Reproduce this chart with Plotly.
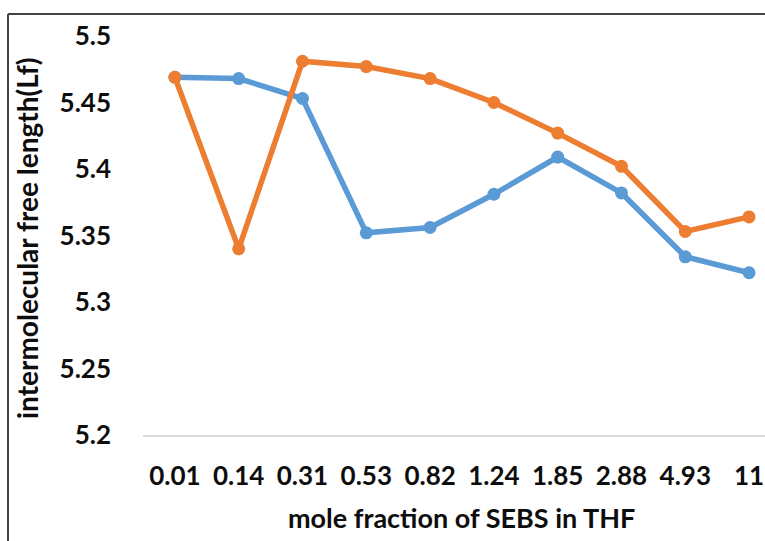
import plotly.graph_objects as go

# mole fraction categories and intermolecular free length values
categories = ["0.01", "0.14", "0.31", "0.53", "0.82", "1.24", "1.85", "2.88", "4.93", "11"]
blue_lf = [5.469, 5.468, 5.453, 5.352, 5.356, 5.381, 5.409, 5.382, 5.334, 5.322]
orange_lf = [5.469, 5.340, 5.481, 5.477, 5.468, 5.450, 5.427, 5.402, 5.353, 5.364]
y_ticks = [5.2, 5.25, 5.3, 5.35, 5.4, 5.45, 5.5]
y_tick_text = ["5.2", "5.25", "5.3", "5.35", "5.4", "5.45", "5.5"]

FONT = "Lato"
TXT = "#0d0d0d"
W, H = 765, 541
ML, MR, MT, MB = 143, 0, 36, 106
pw, ph = W - ML - MR, H - MT - MB


def px_x(x):
    return (x - ML) / pw


def px_y(y):
    return (H - MB - y) / ph


fig = go.Figure()
fig.add_trace(go.Scatter(
    x=categories, y=blue_lf, mode="lines+markers",
    line=dict(color="#5B9BD5", width=5.5),
    marker=dict(color="#5B9BD5", size=13),
    cliponaxis=False, showlegend=False,
))
fig.add_trace(go.Scatter(
    x=categories, y=orange_lf, mode="lines+markers",
    line=dict(color="#ED7D31", width=5.5),
    marker=dict(color="#ED7D31", size=13),
    cliponaxis=False, showlegend=False,
))

# outer frame (only top + left edges show in the crop)
frame = dict(color="#444444", width=2)
fig.add_shape(type="line", xref="paper", yref="paper",
              x0=px_x(8), x1=px_x(800), y0=px_y(14), y1=px_y(14), line=frame)
fig.add_shape(type="line", xref="paper", yref="paper",
              x0=px_x(8), x1=px_x(8), y0=px_y(14), y1=px_y(560), line=frame)

fig.add_annotation(text="intermolecular free length(Lf)", textangle=-90,
                   xref="paper", yref="paper", x=px_x(27), y=px_y(238),
                   xanchor="center", yanchor="middle", showarrow=False,
                   font=dict(family=FONT, size=28, color=TXT, weight="bold"))
fig.add_annotation(text="mole fraction of SEBS in THF",
                   xref="paper", yref="paper", x=px_x(461), y=px_y(517),
                   xanchor="center", yanchor="middle", showarrow=False,
                   font=dict(family=FONT, size=27, color=TXT, weight="bold"))

fig.update_layout(
    width=W, height=H,
    margin=dict(l=ML, r=MR, t=MT, b=MB),
    plot_bgcolor="white", paper_bgcolor="white",
    font=dict(family=FONT, size=26, color=TXT, weight="bold"),
    xaxis=dict(
        type="category", range=[-0.5, 9.25],
        showgrid=False, showline=True, linecolor="#d9d9d9", linewidth=2,
        ticks="", ticklabelstandoff=17,
    ),
    yaxis=dict(
        range=[5.2, 5.5], tickvals=y_ticks, ticktext=y_tick_text,
        showgrid=False, zeroline=False, showline=False, ticks="",
        ticklabelstandoff=31,
    ),
)

# drop the default 8px body margin so the figure sits at the page corner
fig.write_html("out.html", config={"displayModeBar": False},
               post_script="document.body.style.margin='0';")
